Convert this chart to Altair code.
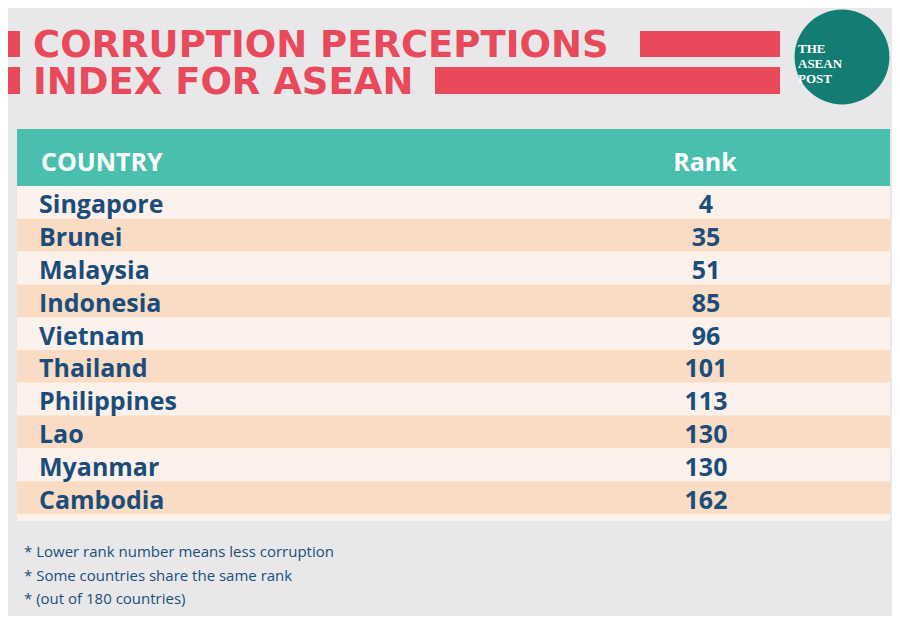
import altair as alt
import pandas as pd

countries = ["Singapore", "Brunei", "Malaysia", "Indonesia", "Vietnam",
             "Thailand", "Philippines", "Lao", "Myanmar", "Cambodia"]
ranks = [4, 35, 51, 85, 96, 101, 113, 130, 130, 162]
title_lines = ["CORRUPTION PERCEPTIONS", "INDEX FOR ASEAN"]
header_labels = ["COUNTRY", "Rank"]
notes = ["* Lower rank number means less corruption",
         "* Some countries share the same rank",
         "* (out of 180 countries)"]
logo_lines = ["THE", "ASEAN", "POST"]

W, H = 884, 608
BG = "#e8e8ea"
RED = "#e84a5b"
TEAL_HEAD = "#4bbfae"
TEAL_LOGO = "#137d74"
BLUE = "#1b4d7a"
ROW_LIGHT = "#fdf1ec"
ROW_DARK = "#fadcc5"
TITLE_FONT = "DejaVu Sans"
BODY_FONT = "Open Sans"

df = pd.DataFrame({"country": countries, "rank": ranks,
                   "row": list(range(len(countries)))})
df["parity"] = df["row"] % 2

base = alt.Chart(pd.DataFrame({"d": [0]}))

def rect(x, x2, y, y2, color):
    return base.mark_rect(color=color).encode(
        x=alt.value(x), x2=alt.value(x2), y=alt.value(y), y2=alt.value(y2))

# title
title_bars = [
    rect(0, 12, 23, 49, RED),
    rect(0, 12, 59, 86, RED),
    rect(632, 772, 23, 49, RED),
    rect(427, 772, 59, 86, RED),
]
title_txt = [
    base.mark_text(text=title_lines[0], align="left", baseline="alphabetic",
                   font=TITLE_FONT, fontWeight="bold", fontSize=37, color=RED)
    .encode(x=alt.value(25), y=alt.value(49)),
    base.mark_text(text=title_lines[1], align="left", baseline="alphabetic",
                   font=TITLE_FONT, fontWeight="bold", fontSize=37, color=RED)
    .encode(x=alt.value(25), y=alt.value(86)),
]

# logo
logo = [
    base.mark_circle(color=TEAL_LOGO, opacity=1).encode(
        x=alt.value(834), y=alt.value(49), size=alt.value(9000)),
    base.mark_text(text="\n".join(logo_lines), lineBreak="\n", lineHeight=15,
                   align="left", baseline="top", font="Liberation Serif",
                   fontWeight="bold", fontSize=13, color="white")
    .encode(x=alt.value(790), y=alt.value(35)),
]

# table header
header = [
    rect(9, 882, 121, 178, TEAL_HEAD),
    base.mark_text(text=header_labels[0], align="left", baseline="middle",
                   font=BODY_FONT, fontWeight="bold", fontSize=25, color="white")
    .encode(x=alt.value(33), y=alt.value(155)),
    base.mark_text(text=header_labels[1], align="center", baseline="middle",
                   font=BODY_FONT, fontWeight="bold", fontSize=25, color="white")
    .encode(x=alt.value(697), y=alt.value(155)),
    rect(9, 882, 178, 513, ROW_LIGHT),
]

yrow = alt.Y("row:O", axis=None,
             scale=alt.Scale(domain=list(range(len(countries))),
                             range=[178, 506], paddingInner=0, paddingOuter=0))
rows = alt.Chart(df).mark_rect().encode(
    x=alt.value(9), x2=alt.value(882), y=yrow,
    color=alt.Color("parity:N", legend=None,
                    scale=alt.Scale(domain=[0, 1], range=[ROW_LIGHT, ROW_DARK])))
names = alt.Chart(df).mark_text(align="left", baseline="middle", font=BODY_FONT,
                                fontWeight="bold", fontSize=25, color=BLUE,
                                dy=3).encode(
    x=alt.value(31), y=yrow, text="country:N")
rank_txt = alt.Chart(df).mark_text(align="center", baseline="middle",
                                   font=BODY_FONT, fontWeight="bold",
                                   fontSize=25, color=BLUE, dy=3).encode(
    x=alt.value(698), y=yrow, text="rank:Q")

foot = base.mark_text(text="\n".join(notes), lineBreak="\n", lineHeight=23.5,
                      align="left", baseline="top", font=BODY_FONT,
                      fontSize=15, color=BLUE).encode(
    x=alt.value(16), y=alt.value(537))

chart = alt.layer(*title_bars, *title_txt, *logo, *header, rows, names,
                  rank_txt, foot).properties(
    width=W, height=H, padding=0, autosize="none"
).configure(background=BG).configure_view(stroke=None)

chart.save("out.html", embed_options={"renderer": "svg", "actions": False})
